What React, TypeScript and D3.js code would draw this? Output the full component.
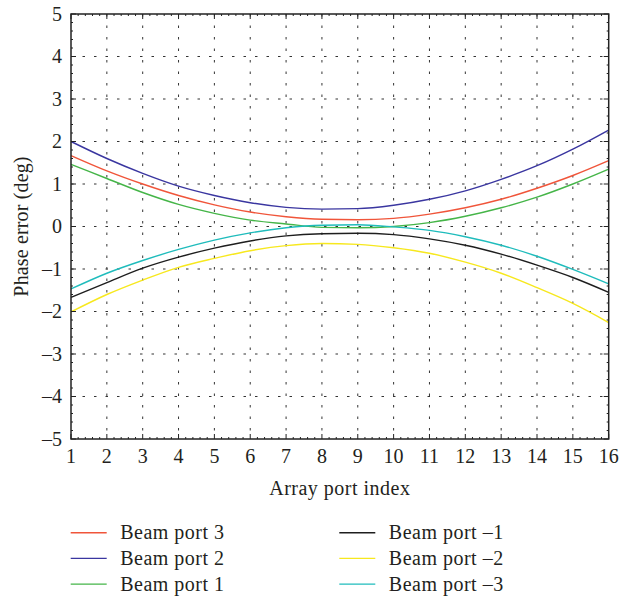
import React from "react";
import * as d3 from "d3";

const portIndex = [1, 2, 3, 4, 5, 6, 7, 8, 9, 10, 11, 12, 13, 14, 15, 16];
const beamPort3 = [1.67, 1.31, 1.0, 0.73, 0.51, 0.34, 0.23, 0.17, 0.16, 0.19, 0.29, 0.44, 0.64, 0.9, 1.2, 1.55];
const beamPort2 = [2.0, 1.6, 1.25, 0.95, 0.73, 0.56, 0.45, 0.41, 0.42, 0.5, 0.64, 0.84, 1.11, 1.43, 1.82, 2.27];
const beamPort1 = [1.46, 1.13, 0.8, 0.52, 0.31, 0.15, 0.06, -0.02, -0.03, 0.0, 0.09, 0.24, 0.44, 0.69, 1.0, 1.35];
const beamPortM1 = [-1.67, -1.32, -0.98, -0.72, -0.51, -0.34, -0.22, -0.17, -0.16, -0.19, -0.29, -0.44, -0.65, -0.91, -1.2, -1.55];
const beamPortM2 = [-2.01, -1.6, -1.26, -0.96, -0.75, -0.57, -0.45, -0.4, -0.42, -0.5, -0.63, -0.84, -1.1, -1.44, -1.81, -2.26];
const beamPortM3 = [-1.47, -1.1, -0.8, -0.54, -0.32, -0.15, -0.03, 0.03, 0.04, -0.01, -0.09, -0.24, -0.44, -0.7, -1.01, -1.35];

const seriesNames = ["Beam port 3", "Beam port 2", "Beam port 1", "Beam port \u20131", "Beam port \u20132", "Beam port \u20133"];
const seriesValues = [beamPort3, beamPort2, beamPort1, beamPortM1, beamPortM2, beamPortM3];
const seriesColors = ["#f0553a", "#3a36a0", "#45b548", "#1e1e1e", "#f7e81e", "#1fbcbc"];

const xTicks = d3.range(1, 17);
const yTicks = d3.range(-5, 6);

const W = 621;
const H = 597;
const left = 71;
const right = 608.7;
const top = 14;
const bottom = 439;
const FONT = "'Liberation Serif', 'DejaVu Serif', serif";

function fmt(v: number) {
  return v < 0 ? "\u2013" + Math.abs(v) : String(v);
}

export default function App() {
  const x = d3.scaleLinear().domain([1, 16]).range([left, right]);
  const y = d3.scaleLinear().domain([-5, 5]).range([bottom, top]);
  const line = d3
    .line<number>()
    .x((_, i) => x(portIndex[i]))
    .y((d) => y(d))
    .curve(d3.curveMonotoneX);

  const xMinor = d3.range(1, 16.001, 0.2).filter((v) => Math.abs(v - Math.round(v)) > 1e-6);
  const yMinor = d3.range(-5, 5.001, 0.2).filter((v) => Math.abs(v - Math.round(v)) > 1e-6);

  return (
    <svg
      width={W}
      height={H}
      style={{ position: "absolute", left: 0, top: 0, background: "#fff" }}
      fontFamily={FONT}
    >
      <rect x={0} y={0} width={W} height={H} fill="#fff" />
      {/* grid */}
      <g stroke="#333" strokeWidth={1} strokeDasharray="2.5,9">
        {xTicks.slice(1, -1).map((t) => (
          <line key={"gx" + t} x1={x(t)} x2={x(t)} y1={top} y2={bottom} />
        ))}
        {yTicks.slice(1, -1).map((t) => (
          <line key={"gy" + t} x1={left} x2={right} y1={y(t)} y2={y(t)} />
        ))}
      </g>
      {/* series */}
      {seriesValues.map((vals, i) => (
        <path key={seriesNames[i]} d={line(vals) || ""} fill="none" stroke={seriesColors[i]} strokeWidth={1.4} />
      ))}
      {/* ticks */}
      <g stroke="#222" strokeWidth={1}>
        {xTicks.map((t) => (
          <g key={"xt" + t}>
            <line x1={x(t)} x2={x(t)} y1={bottom} y2={bottom - 5} />
            <line x1={x(t)} x2={x(t)} y1={top} y2={top + 5} />
          </g>
        ))}
        {yTicks.map((t) => (
          <g key={"yt" + t}>
            <line x1={left} x2={left + 5} y1={y(t)} y2={y(t)} />
            <line x1={right} x2={right - 5} y1={y(t)} y2={y(t)} />
          </g>
        ))}
        {xMinor.map((t, i) => (
          <g key={"xm" + i}>
            <line x1={x(t)} x2={x(t)} y1={bottom} y2={bottom - 2} />
            <line x1={x(t)} x2={x(t)} y1={top} y2={top + 2} />
          </g>
        ))}
        {yMinor.map((t, i) => (
          <g key={"ym" + i}>
            <line x1={left} x2={left + 2} y1={y(t)} y2={y(t)} />
            <line x1={right} x2={right - 2} y1={y(t)} y2={y(t)} />
          </g>
        ))}
      </g>
      <rect x={left} y={top} width={right - left} height={bottom - top} fill="none" stroke="#222" strokeWidth={1.5} />
      {/* tick labels */}
      <g fontSize={20} fill="#231f20">
        {xTicks.map((t) => (
          <text key={"xl" + t} x={x(t)} y={bottom + 24} textAnchor="middle">
            {fmt(t)}
          </text>
        ))}
        {yTicks.map((t) => (
          <text key={"yl" + t} x={left - 9} y={y(t) + 6.5} textAnchor="end">
            {fmt(t)}
          </text>
        ))}
        <text x={(left + right) / 2} y={495} textAnchor="middle" letterSpacing={0.5}>
          Array port index
        </text>
        <text transform={`translate(${28},${(top + bottom) / 2}) rotate(-90)`} textAnchor="middle" letterSpacing={0.15}>
          Phase error (deg)
        </text>
      </g>
      {/* legend */}
      <g fontSize={20} fill="#231f20" letterSpacing={0.5}>
        {seriesNames.map((name, i) => {
          const col = Math.floor(i / 3);
          const row = i % 3;
          const lx = col === 0 ? 70.7 : 339.3;
          const ly = 532.7 + row * 25.7;
          return (
            <g key={"lg" + name}>
              <line x1={lx} x2={lx + 36} y1={ly} y2={ly} stroke={seriesColors[i]} strokeWidth={1.4} />
              <text x={lx + 49.5} y={ly + 6.5}>
                {name}
              </text>
            </g>
          );
        })}
      </g>
    </svg>
  );
}
